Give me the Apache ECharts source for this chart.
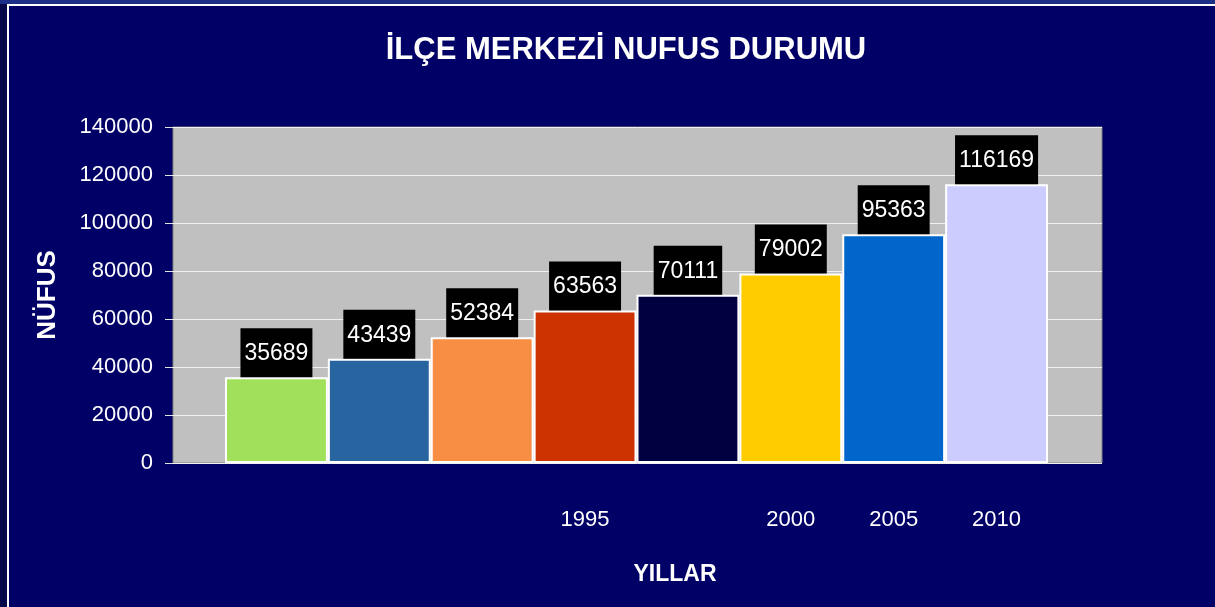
<!DOCTYPE html>
<html>
<head>
<meta charset="utf-8">
<title>İlçe Merkezi Nüfus Durumu</title>
<script src="https://cdn.jsdelivr.net/npm/echarts@6/dist/echarts.min.js"></script>
<style>
  html, body { margin: 0; padding: 0; background: #000066; }
  #nufus { width: 1215px; height: 607px; }
  .strip-left { position: absolute; left: 0; top: 0; width: 7px; height: 607px; background: #06084a; }
  .strip-top { position: absolute; left: 0; top: 0; width: 1215px; height: 4px; background: #1c2f86; }
  .frame { position: absolute; left: 7px; top: 4px; right: 0; bottom: 0; border-left: 2px solid #fff; border-top: 2px solid #fff; pointer-events: none; }
</style>
</head>
<body>
<div id="nufus"></div>
<div class="strip-left"></div>
<div class="strip-top"></div>
<div class="frame"></div>
<script>
  // yıllar (sadece bazıları etiketli)
  var yillar = ['', '', '', '1995', '', '2000', '2005', '2010'];
  var nufus = [35689, 43439, 52384, 63563, 70111, 79002, 95363, 116169];
  var renkler = ['#a0e05a', '#2864a0', '#f88e44', '#cc3300', '#000040', '#ffcc00', '#0066cc', '#ccccff'];

  var font = "'Liberation Sans', Arial, sans-serif";

  var chart = echarts.init(document.getElementById('nufus'));
  var option = {
    backgroundColor: '#000066',
    animation: false,
    title: [{
      text: 'İLÇE MERKEZİ NUFUS DURUMU',
      left: 621,
      top: 30,
      textAlign: 'center',
      textStyle: { color: '#fff', fontSize: 31, fontWeight: 'bold', fontFamily: font }
    }, {
      text: 'YILLAR',
      left: 670,
      top: 558,
      textAlign: 'center',
      textStyle: { color: '#fff', fontSize: 23, fontWeight: 'bold', fontFamily: font }
    }],
    grid: [{
      // gri çizim alanı
      left: 173, right: 113, top: 127, bottom: 144,
      show: true,
      backgroundColor: '#c0c0c0',
      borderColor: '#808080',
      borderWidth: 1
    }, {
      // sütunlar
      left: 225, right: 167, top: 127, bottom: 144
    }],
    xAxis: [{
      type: 'category',
      gridIndex: 0,
      data: yillar,
      show: false
    }, {
      type: 'category',
      gridIndex: 1,
      data: yillar,
      axisLine: { show: false },
      axisTick: { show: false },
      axisLabel: {
        color: '#fff',
        fontSize: 22,
        fontFamily: font,
        margin: 46,
        interval: 0
      }
    }],
    yAxis: [{
      type: 'value',
      gridIndex: 0,
      min: 0,
      max: 140000,
      interval: 20000,
      axisLine: { show: false },
      axisTick: { show: true, length: 8, lineStyle: { color: '#e0e0e0' } },
      axisLabel: {
        color: '#fff',
        fontSize: 22,
        fontFamily: font,
        margin: 20,
        formatter: function (v) { return String(v); }
      },
      splitLine: { lineStyle: { color: '#f0f0f0', width: 1 } },
      name: 'NÜFUS',
      nameLocation: 'middle',
      nameGap: 112,
      nameRotate: 90,
      nameTextStyle: { color: '#fff', fontSize: 26, fontWeight: 'bold', fontFamily: font }
    }, {
      type: 'value',
      gridIndex: 1,
      min: 0,
      max: 140000,
      show: false
    }],
    series: [{
      type: 'bar',
      xAxisIndex: 1,
      yAxisIndex: 1,
      barCategoryGap: '0%',
      data: nufus.map(function (v, i) {
        return { value: v, itemStyle: { color: renkler[i] } };
      }),
      itemStyle: {
        borderColor: '#fff',
        borderWidth: 2
      },
      label: {
        show: true,
        position: 'top',
        distance: 0,
        color: '#fff',
        fontSize: 23,
        lineHeight: 23,
        fontFamily: font,
        backgroundColor: '#000',
        padding: [14, 4, 12, 4]
      }
    }]
  };
  chart.setOption(option);
  window.addEventListener('resize', function () {
    chart.resize();
  });
</script>
</body>
</html>
